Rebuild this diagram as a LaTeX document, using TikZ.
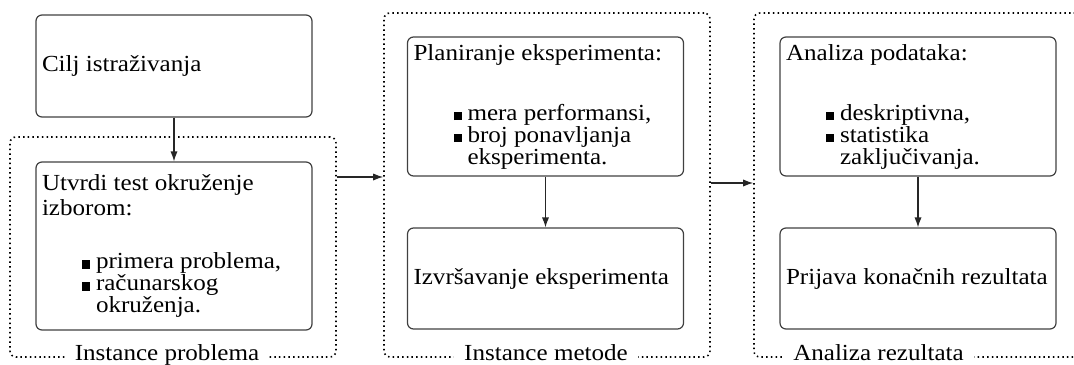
\documentclass[tikz,border=0pt]{standalone}
\usepackage{fontspec}
\setmainfont{Liberation Serif}[FakeStretch=1.09]
\usetikzlibrary{arrows.meta}
\newcommand{\bul}{\rule{4.2pt}{4.2pt}\hspace{2.8pt}}
\newcommand{\itm}[1]{\hspace*{20pt}\bul #1}
\newcommand{\cnt}[1]{\hspace*{27pt}#1}
\begin{document}
\begin{tikzpicture}[x=0.5pt,y=-0.5pt,
  box/.style={draw=black!75, line width=0.6pt, rounded corners=3pt,
    minimum width=138pt, text width=132pt, inner xsep=3pt, inner ysep=0pt,
    align=flush left, font=\fontsize{11.5}{12.4}\selectfont},
  group/.style={draw=black, line width=0.8pt, dash pattern=on 0.75pt off 1.6pt,
    rounded corners=3pt, inner sep=0pt, minimum width=163pt},
  glabel/.style={fill=white, inner xsep=5pt, inner ysep=1pt, anchor=base,
    font=\fontsize{11.5}{12.4}\selectfont},
  arr/.style={-{Latex[length=5pt,width=3.6pt]}, line width=0.6pt, draw=black!85}
]
\useasboundingbox (0,0) rectangle (1074,364);

% groups
\node[group, minimum height=110pt] (G1) at (173,247) {};
\node[group, minimum height=172pt] (G2) at (547,185) {};
\node[group, minimum height=172pt, minimum width=173pt] (G3) at (927,185) {};

% boxes
\node[box, minimum height=51pt] (A) at (174,66) {Cilj istraživanja};
\node[box, minimum height=84pt] (B) at (174,246) {Utvrdi test okruženje\\ izborom:\\[14.4pt]
  \itm{primera problema,}\\[-1.4pt]
  \itm{računarskog}\\[-1.4pt]
  \cnt{okruženja.}};
\node[box, minimum height=69.5pt, minimum width=137.5pt] (C) at (545.5,106.5) {Planiranje eksperimenta:\\[17.6pt]
  \itm{mera performansi,}\\[-1.4pt]
  \itm{broj ponavljanja}\\[-1.4pt]
  \cnt{eksperimenta.}};
\node[box, minimum height=50.5pt, minimum width=137.5pt] (D) at (545.5,278.5) {Izvršavanje eksperimenta};
\node[box, minimum height=69.5pt] (E) at (918,106.5) {Analiza podataka:\\[17.6pt]
  \itm{deskriptivna,}\\[-1.4pt]
  \itm{statistika}\\[-1.4pt]
  \cnt{zaključivanja.}};
\node[box, minimum height=50.5pt] (F) at (918,278.5) {Prijava konačnih rezultata};

% group labels
\node[glabel] (L1) at (167,360) {Instance problema};
\node[glabel] (L2) at (546,360) {Instance metode};
\node[glabel] (L3) at (878.5,360) {Analiza rezultata};

% connectors
\draw[arr] (A) -- (B);
\draw[arr] (C) -- (D);
\draw[arr] (E) -- (F);
\coordinate (h1) at (0,177);
\coordinate (h2) at (0,183);
\draw[arr] (G1.east |- h1) -- (G2.west |- h1);
\draw[arr] (G2.east |- h2) -- (G3.west |- h2);
\end{tikzpicture}
\end{document}
